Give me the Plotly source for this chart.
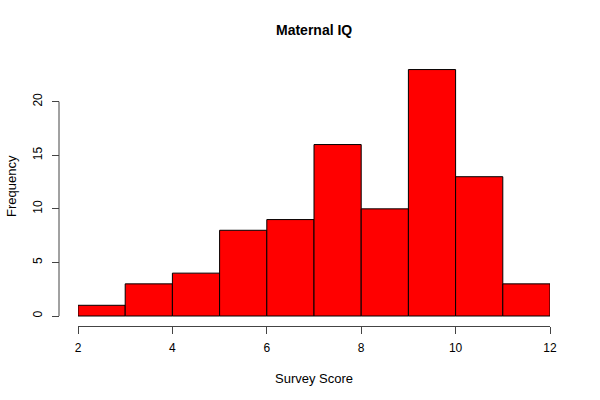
import plotly.graph_objects as go

bin_starts = [2, 3, 4, 5, 6, 7, 8, 9, 10, 11]
counts = [1, 3, 4, 8, 9, 16, 10, 23, 13, 3]
bin_width = 1
x_ticks = [2, 4, 6, 8, 10, 12]
y_ticks = [0, 5, 10, 15, 20]

mids = [b + bin_width / 2 for b in bin_starts]

L, R, T, B = 40, 50, 60, 74
W, H = 600, 400
pw = W - L - R
ph = H - T - B
x_dom0 = (78 - L) / pw
ypos = (59 - L) / pw
px_per_unit = (316 - 101.7) / 20
ymin = -(326 - 316) / px_per_unit
ymax = (316 - T) / px_per_unit

font = "Liberation Sans, Arial, Helvetica, sans-serif"

fig = go.Figure(go.Bar(
    x=mids, y=counts, width=bin_width,
    marker=dict(color="#ff0000", line=dict(color="black", width=1)),
    hoverinfo="skip",
))

fig.update_layout(
    width=W, height=H,
    margin=dict(l=L, r=R, t=T, b=B),
    paper_bgcolor="white", plot_bgcolor="white",
    showlegend=False,
    font=dict(family=font, size=12, color="black"),
    xaxis=dict(
        domain=[x_dom0, 1], range=[x_ticks[0], x_ticks[-1]],
        tickvals=x_ticks, ticks="outside", ticklen=7, tickcolor="#444",
        showline=True, linecolor="#444", linewidth=1,
        showgrid=False, zeroline=False, ticklabelstandoff=4,
    ),
    yaxis=dict(
        range=[ymin, ymax], anchor="free", position=ypos,
        tickvals=y_ticks, ticks="outside", ticklen=7, tickcolor="#444",
        tickangle=-90, showline=False, showgrid=False, zeroline=False,
        ticklabelstandoff=5,
    ),
    shapes=[dict(type="line", xref="paper", yref="y",
                 x0=ypos, x1=ypos, y0=y_ticks[0], y1=y_ticks[-1],
                 line=dict(color="#444", width=1))],
    annotations=[
        dict(text="<b>Maternal IQ</b>", xref="paper", yref="paper",
             x=(x_dom0 + 1) / 2, y=(H - 30 - B) / ph, showarrow=False,
             font=dict(size=14), xanchor="center", yanchor="middle"),
        dict(text="Survey Score", xref="paper", yref="paper",
             x=(x_dom0 + 1) / 2, y=(H - 378 - B) / ph, showarrow=False,
             font=dict(size=13), xanchor="center", yanchor="middle"),
        dict(text="Frequency", xref="paper", yref="paper",
             x=(11 - L) / pw, y=(H - 186 - B) / ph, showarrow=False,
             textangle=-90, font=dict(size=13), xanchor="center", yanchor="middle"),
    ],
)

fig.write_html("out.html", config={"displayModeBar": False},
               post_script="document.body.style.margin='0';")
